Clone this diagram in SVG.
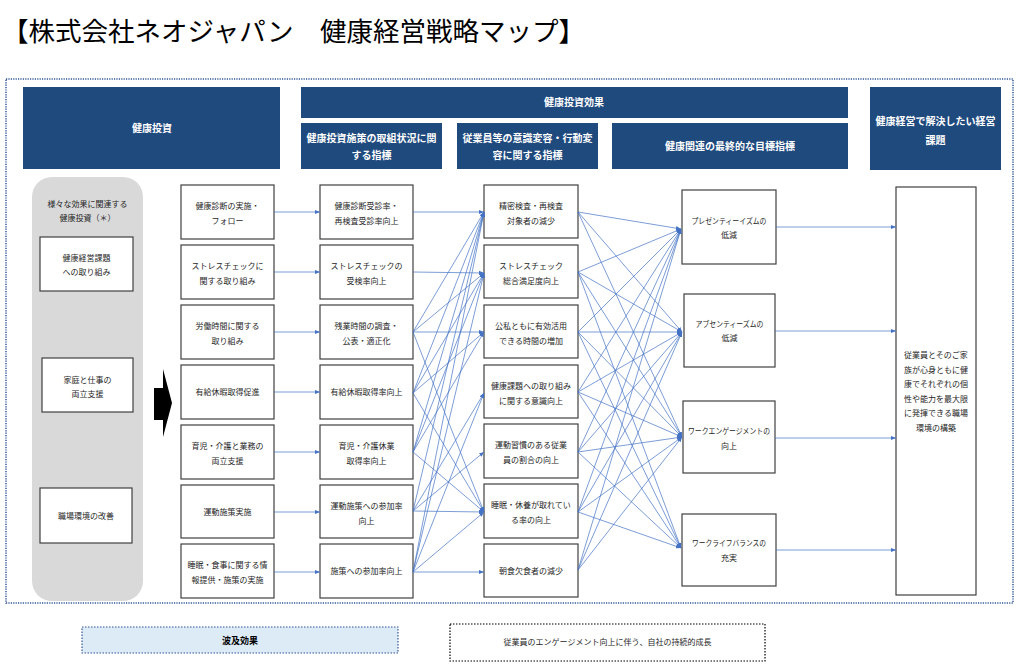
<svg xmlns="http://www.w3.org/2000/svg" width="1024" height="670" viewBox="0 0 1024 670">
<defs>
<style>
text{font-family:"Noto Sans CJK JP","Noto Sans",sans-serif;}
.t{font-size:8px;fill:#262626;text-anchor:middle;}
.h{font-size:10px;fill:#ffffff;font-weight:bold;text-anchor:middle;}
.hb{fill:#1F4A7E;}
.bx{fill:#ffffff;stroke:#404040;stroke-width:1.2;}
.c line{stroke:#4472C4;stroke-width:0.7;marker-end:url(#ah);}
</style>
<marker id="ah" markerWidth="6" markerHeight="6" refX="5" refY="3" orient="auto" markerUnits="userSpaceOnUse"><path d="M0,0.9 L5,3 L0,5.1 z" fill="#4472C4"/></marker>
</defs>
<rect width="1024" height="670" fill="#ffffff"/>
<text x="2" y="41" style="font-size:26.5px;fill:#000000;">【株式会社ネオジャパン　健康経営戦略マップ】</text>
<rect x="6" y="79" width="1007" height="524" fill="none" stroke="#2F5597" stroke-width="1.5" stroke-dasharray="1.2,1.2"/>

<g id="headers">
<rect class="hb" x="23" y="87" width="257" height="82"/>
<text class="h" x="152" y="131.5">健康投資</text>
<rect class="hb" x="301" y="87" width="547" height="31"/>
<text class="h" x="574" y="106">健康投資効果</text>
<rect class="hb" x="301" y="123" width="141" height="46"/>
<text class="h" x="371.5" y="141.5">健康投資施策の取組状況に関</text>
<text class="h" x="371.5" y="158.5">する指標</text>
<rect class="hb" x="457" y="123" width="141" height="46"/>
<text class="h" x="527.5" y="141.5">従業員等の意識変容・行動変</text>
<text class="h" x="527.5" y="158.5">容に関する指標</text>
<rect class="hb" x="612" y="123" width="236" height="46"/>
<text class="h" x="730" y="149.5">健康関連の最終的な目標指標</text>
<rect class="hb" x="870" y="87" width="131" height="83"/>
<text class="h" x="935.5" y="125">健康経営で解決したい経営</text>
<text class="h" x="935.5" y="143.5">課題</text>
</g>

<g id="panel">
<rect x="32" y="177" width="111" height="424" rx="20" ry="20" fill="#D9D9D9"/>
<text class="t" x="87.5" y="207">様々な効果に関連する</text>
<text class="t" x="87.5" y="221">健康投資（＊）</text>
</g>
<g id="p1"><rect class="bx" x="40" y="237" width="93" height="54"/><text class="t" x="86.5" y="261">健康経営課題</text><text class="t" x="86.5" y="275">への取り組み</text></g>
<g id="p2"><rect class="bx" x="42" y="358" width="91" height="54"/><text class="t" x="87.5" y="383">家庭と仕事の</text><text class="t" x="87.5" y="397">両立支援</text></g>
<g id="p3"><rect class="bx" x="40" y="488" width="92" height="55"/><text class="t" x="86" y="518.5">職場環境の改善</text></g>
<g id="bigarrow"><polygon points="154,388 163,388 163,369 172,403 163,437 163,420 154,420" fill="#000000"/></g>

<g id="a1"><rect class="bx" x="181" y="185" width="93" height="54"/><text class="t" x="227.5" y="209">健康診断の実施・</text><text class="t" x="227.5" y="224">フォロー</text></g>
<g id="a2"><rect class="bx" x="181" y="245" width="93" height="54"/><text class="t" x="227.5" y="269">ストレスチェックに</text><text class="t" x="227.5" y="284">関する取り組み</text></g>
<g id="a3"><rect class="bx" x="181" y="305" width="93" height="54"/><text class="t" x="227.5" y="329">労働時間に関する</text><text class="t" x="227.5" y="344">取り組み</text></g>
<g id="a4"><rect class="bx" x="181" y="365" width="93" height="54"/><text class="t" x="227.5" y="395">有給休暇取得促進</text></g>
<g id="a5"><rect class="bx" x="181" y="425" width="93" height="54"/><text class="t" x="227.5" y="449">育児・介護と業務の</text><text class="t" x="227.5" y="464">両立支援</text></g>
<g id="a6"><rect class="bx" x="181" y="485" width="93" height="53"/><text class="t" x="227.5" y="515">運動施策実施</text></g>
<g id="a7"><rect class="bx" x="181" y="544" width="93" height="54"/><text class="t" x="227.5" y="568">睡眠・食事に関する情</text><text class="t" x="227.5" y="583">報提供・施策の実施</text></g>

<g id="b1"><rect class="bx" x="320" y="185" width="93" height="54"/><text class="t" x="366.5" y="208.5">健康診断受診率・</text><text class="t" x="366.5" y="223.5">再検査受診率向上</text></g>
<g id="b2"><rect class="bx" x="320" y="245" width="93" height="54"/><text class="t" x="366.5" y="268.5">ストレスチェックの</text><text class="t" x="366.5" y="283.5">受検率向上</text></g>
<g id="b3"><rect class="bx" x="320" y="305" width="93" height="54"/><text class="t" x="366.5" y="328.5">残業時間の調査・</text><text class="t" x="366.5" y="343.5">公表・適正化</text></g>
<g id="b4"><rect class="bx" x="320" y="365" width="93" height="54"/><text class="t" x="366.5" y="395">有給休暇取得率向上</text></g>
<g id="b5"><rect class="bx" x="320" y="425" width="93" height="54"/><text class="t" x="366.5" y="448.5">育児・介護休業</text><text class="t" x="366.5" y="463.5">取得率向上</text></g>
<g id="b6"><rect class="bx" x="320" y="485" width="93" height="53"/><text class="t" x="366.5" y="508.5">運動施策への参加率</text><text class="t" x="366.5" y="523.5">向上</text></g>
<g id="b7"><rect class="bx" x="320" y="544" width="93" height="54"/><text class="t" x="366.5" y="574">施策への参加率向上</text></g>

<g id="c1"><rect class="bx" x="484" y="185" width="94" height="53"/><text class="t" x="531" y="208.5">精密検査・再検査</text><text class="t" x="531" y="223.5">対象者の減少</text></g>
<g id="c2"><rect class="bx" x="484" y="245" width="94" height="53"/><text class="t" x="531" y="268.5">ストレスチェック</text><text class="t" x="531" y="283.5">総合満足度向上</text></g>
<g id="c3"><rect class="bx" x="484" y="305" width="94" height="53"/><text class="t" x="531" y="328.5">公私ともに有効活用</text><text class="t" x="531" y="343.5">できる時間の増加</text></g>
<g id="c4"><rect class="bx" x="484" y="365" width="94" height="53"/><text class="t" x="531" y="388.5">健康課題への取り組み</text><text class="t" x="531" y="403.5">に関する意識向上</text></g>
<g id="c5"><rect class="bx" x="484" y="424" width="94" height="54"/><text class="t" x="531" y="447.5">運動習慣のある従業</text><text class="t" x="531" y="462.5">員の割合の向上</text></g>
<g id="c6"><rect class="bx" x="484" y="484" width="94" height="54"/><text class="t" x="531" y="507.5">睡眠・休養が取れてい</text><text class="t" x="531" y="522.5">る率の向上</text></g>
<g id="c7"><rect class="bx" x="484" y="544" width="94" height="53"/><text class="t" x="531" y="574">朝食欠食者の減少</text></g>

<g id="d1"><rect class="bx" x="682" y="190" width="94" height="74"/><text class="t" x="729" y="223.5" textLength="75" lengthAdjust="spacingAndGlyphs">プレゼンティーイズムの</text><text class="t" x="729" y="237.5">低減</text></g>
<g id="d2"><rect class="bx" x="684" y="294" width="91" height="73"/><text class="t" x="729.5" y="326.5" textLength="68" lengthAdjust="spacingAndGlyphs">アブセンティーズムの</text><text class="t" x="729.5" y="341">低減</text></g>
<g id="d3"><rect class="bx" x="683" y="401" width="92" height="72"/><text class="t" x="729" y="433.5" textLength="82" lengthAdjust="spacingAndGlyphs">ワークエンゲージメントの</text><text class="t" x="729" y="448.5">向上</text></g>
<g id="d4"><rect class="bx" x="682" y="514" width="94" height="72"/><text class="t" x="729" y="546" textLength="74" lengthAdjust="spacingAndGlyphs">ワークライフバランスの</text><text class="t" x="729" y="561">充実</text></g>

<g id="e1"><rect class="bx" x="896" y="187" width="80" height="408"/>
<text class="t" x="936" y="358">従業員とそのご家</text>
<text class="t" x="936" y="372.5">族が心身ともに健</text>
<text class="t" x="936" y="387">康でそれぞれの個</text>
<text class="t" x="936" y="401.5">性や能力を最大限</text>
<text class="t" x="936" y="416">に発揮できる職場</text>
<text class="t" x="936" y="430.5">環境の構築</text>
</g>

<g id="connectors" class="c">
<line x1="274" y1="212" x2="320" y2="212"/>
<line x1="274" y1="272" x2="320" y2="272"/>
<line x1="274" y1="332" x2="320" y2="332"/>
<line x1="274" y1="392" x2="320" y2="392"/>
<line x1="274" y1="452" x2="320" y2="452"/>
<line x1="274" y1="512" x2="320" y2="512"/>
<line x1="274" y1="572" x2="320" y2="572"/>

<line x1="413" y1="212" x2="484" y2="212"/>
<line x1="413" y1="272" x2="484" y2="273"/>
<line x1="413" y1="332" x2="484" y2="212"/>
<line x1="413" y1="332" x2="484" y2="273"/>
<line x1="413" y1="332" x2="484" y2="332"/>
<line x1="413" y1="332" x2="484" y2="512"/>
<line x1="413" y1="393" x2="484" y2="212"/>
<line x1="413" y1="393" x2="484" y2="273"/>
<line x1="413" y1="393" x2="484" y2="332"/>
<line x1="413" y1="393" x2="484" y2="512"/>
<line x1="413" y1="452" x2="484" y2="212"/>
<line x1="413" y1="452" x2="484" y2="273"/>
<line x1="413" y1="452" x2="484" y2="332"/>
<line x1="413" y1="452" x2="484" y2="512"/>
<line x1="413" y1="511" x2="484" y2="212"/>
<line x1="413" y1="511" x2="484" y2="393"/>
<line x1="413" y1="511" x2="484" y2="452"/>
<line x1="413" y1="511" x2="484" y2="512"/>
<line x1="413" y1="572" x2="484" y2="212"/>
<line x1="413" y1="572" x2="484" y2="273"/>
<line x1="413" y1="572" x2="484" y2="393"/>
<line x1="413" y1="572" x2="484" y2="512"/>
<line x1="413" y1="572" x2="484" y2="572"/>

<line x1="578" y1="212" x2="681" y2="229"/>
<line x1="578" y1="212" x2="682" y2="332"/>
<line x1="578" y1="212" x2="682" y2="437"/>
<line x1="578" y1="272" x2="681" y2="229"/>
<line x1="578" y1="272" x2="682" y2="332"/>
<line x1="578" y1="272" x2="682" y2="437"/>
<line x1="578" y1="272" x2="681" y2="548"/>
<line x1="578" y1="332" x2="681" y2="229"/>
<line x1="578" y1="332" x2="682" y2="332"/>
<line x1="578" y1="332" x2="682" y2="437"/>
<line x1="578" y1="332" x2="681" y2="548"/>
<line x1="578" y1="392" x2="681" y2="229"/>
<line x1="578" y1="392" x2="682" y2="332"/>
<line x1="578" y1="392" x2="682" y2="437"/>
<line x1="578" y1="392" x2="681" y2="548"/>
<line x1="578" y1="452" x2="681" y2="229"/>
<line x1="578" y1="452" x2="682" y2="332"/>
<line x1="578" y1="452" x2="682" y2="437"/>
<line x1="578" y1="452" x2="681" y2="548"/>
<line x1="578" y1="512" x2="681" y2="229"/>
<line x1="578" y1="512" x2="682" y2="332"/>
<line x1="578" y1="512" x2="682" y2="437"/>
<line x1="578" y1="512" x2="681" y2="548"/>
<line x1="578" y1="570" x2="681" y2="229"/>
<line x1="578" y1="570" x2="682" y2="332"/>
<line x1="578" y1="570" x2="682" y2="437"/>

<line x1="776" y1="227" x2="896" y2="227"/>
<line x1="775" y1="331" x2="896" y2="331"/>
<line x1="775" y1="438" x2="896" y2="438"/>
<line x1="776" y1="550" x2="896" y2="550"/>
</g>

<g id="legend1"><rect x="82" y="627" width="316" height="26" fill="#DDEBF7" stroke="#2F5597" stroke-width="1.2" stroke-dasharray="1.5,1.5"/><text x="240" y="643.5" style="font-size:9px;font-weight:bold;fill:#000000;text-anchor:middle;">波及効果</text></g>
<g id="legend2"><rect x="450" y="624" width="315" height="37" fill="#ffffff" stroke="#000000" stroke-width="1.2" stroke-dasharray="1.5,1.5"/><text class="t" x="607.5" y="645">従業員のエンゲージメント向上に伴う、自社の持続的成長</text></g>
</svg>
